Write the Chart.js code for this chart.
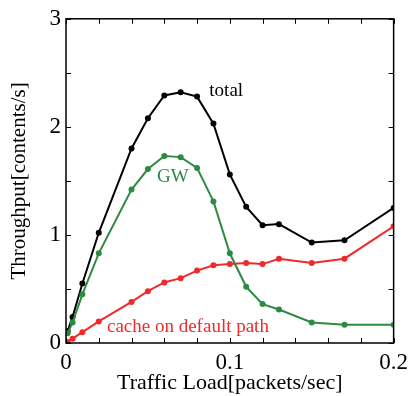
<!DOCTYPE html>
<html><head><meta charset="utf-8">
<script src="https://cdn.jsdelivr.net/npm/chart.js@4/dist/chart.umd.min.js"></script>
<style>html,body{margin:0;padding:0;background:#fff}#wrap{width:414px;height:396px}</style>
</head><body><div id="wrap"><canvas id="c" width="414" height="396"></canvas></div>
<script>
const loads = [0.001, 0.004, 0.01, 0.02, 0.04, 0.05, 0.06, 0.07, 0.08, 0.09, 0.1, 0.11, 0.12, 0.13, 0.15, 0.17, 0.2];
const total = [0.11, 0.24, 0.55, 1.02, 1.80, 2.08, 2.29, 2.32, 2.28, 2.03, 1.56, 1.26, 1.09, 1.10, 0.93, 0.95, 1.25];
const gw    = [0.09, 0.19, 0.45, 0.83, 1.42, 1.61, 1.73, 1.72, 1.62, 1.31, 0.83, 0.52, 0.36, 0.31, 0.19, 0.17, 0.17];
const cache = [0.01, 0.04, 0.10, 0.20, 0.38, 0.48, 0.56, 0.60, 0.67, 0.72, 0.73, 0.74, 0.73, 0.78, 0.74, 0.78, 1.08];
const xTicks = [0, 0.1, 0.2];
const yTicks = [0, 1, 2, 3];
const labels = [
  {text: 'total', x: 0.0875, y: 2.33, color: '#000000'},
  {text: 'GW', x: 0.0556, y: 1.54, color: '#2e8a42'},
  {text: 'cache on default path', x: 0.025, y: 0.15, color: '#f02a2a'}
];
const BLACK = '#000000', GREEN = '#2e8a42', RED = '#f02a2a';
const FONT = "'Liberation Serif', 'Times New Roman', serif";

function mk(data, color) {
  return {data: loads.map((x, i) => ({x, y: data[i]})), borderColor: color, backgroundColor: color,
    borderWidth: 2, pointRadius: 3, pointHoverRadius: 3, pointBorderWidth: 0, tension: 0};
}

const inner = {
  id: 'inner',
  afterDatasetsDraw(chart) {
    const ctx = chart.ctx, a = chart.chartArea, xs = chart.scales.x, ys = chart.scales.y;
    ctx.save();
    ctx.strokeStyle = '#000'; ctx.lineWidth = 1;
    const L = 5;
    ctx.beginPath();
    for (let v = 0; v <= 0.2001; v += 0.02) {
      const p = Math.round(xs.getPixelForValue(v)) + 0.5;
      ctx.moveTo(p, a.bottom); ctx.lineTo(p, a.bottom - L);
      ctx.moveTo(p, a.top); ctx.lineTo(p, a.top + L);
    }
    for (let v = 0; v <= 3.001; v += 0.5) {
      const p = Math.round(ys.getPixelForValue(v)) + 0.5;
      ctx.moveTo(a.left, p); ctx.lineTo(a.left + L, p);
      ctx.moveTo(a.right, p); ctx.lineTo(a.right - L, p);
    }
    ctx.stroke();
    ctx.lineWidth = 1.5;
    ctx.strokeRect(a.left, a.top, a.right - a.left, a.bottom - a.top);
    ctx.font = '19px ' + FONT;
    ctx.textBaseline = 'middle'; ctx.textAlign = 'left';
    labels.forEach(l => { ctx.fillStyle = l.color; ctx.fillText(l.text, xs.getPixelForValue(l.x), ys.getPixelForValue(l.y)); });
    ctx.restore();
  }
};

new Chart(document.getElementById('c'), {
  type: 'line',
  data: {datasets: [mk(gw, GREEN), mk(cache, RED), mk(total, BLACK)]},
  options: {
    responsive: false, animation: false, devicePixelRatio: 1,
    layout: {padding: {left: 0, right: 16, top: 15, bottom: 0}},
    plugins: {legend: {display: false}, tooltip: {enabled: false}},
    scales: {
      x: {type: 'linear', min: 0, max: 0.2,
        afterBuildTicks: s => { s.ticks = xTicks.map(v => ({value: v})); },
        afterFit: s => { s.height = 53; },
        grid: {display: false, drawTicks: false}, border: {display: false},
        ticks: {color: '#000', font: {family: FONT, size: 23}, padding: 6, maxRotation: 0,
          callback: v => String(v)},
        title: {display: true, text: 'Traffic Load[packets/sec]', color: '#000', font: {family: FONT, size: 22}, padding: {top: 0, bottom: 0}}
      },
      y: {type: 'linear', min: 0, max: 3,
        afterBuildTicks: s => { s.ticks = yTicks.map(v => ({value: v})); },
        afterFit: s => { s.width = 66; },
        grid: {display: false, drawTicks: false}, border: {display: false},
        ticks: {color: '#000', font: {family: FONT, size: 23}, padding: 5, callback: v => String(v)},
        title: {display: true, text: 'Throughput[contents/s]', color: '#000', font: {family: FONT, size: 21}, padding: {top: 7, bottom: 0}}
      }
    }
  },
  plugins: [inner]
});
</script></body></html>
